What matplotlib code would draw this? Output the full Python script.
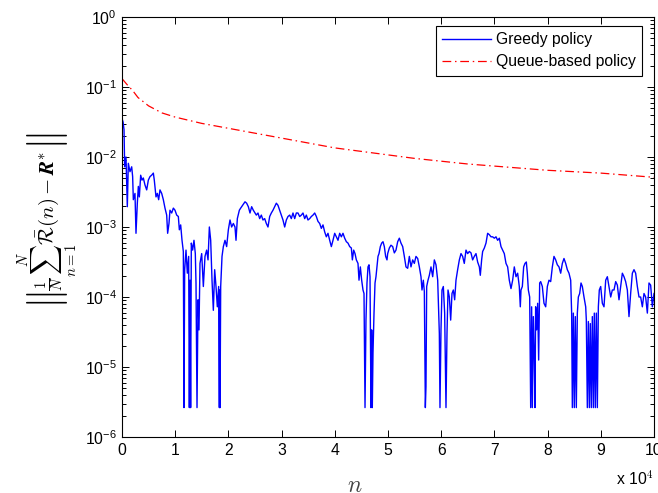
import matplotlib
matplotlib.use("Agg")
import matplotlib.pyplot as plt
from matplotlib.transforms import IdentityTransform
import numpy as np

plt.rcParams['font.family'] = ['Liberation Sans', 'DejaVu Sans']
plt.rcParams['mathtext.fontset'] = 'cm'

queue_n = [0.0, 0.1, 0.2, 0.3, 0.5, 0.75, 1.0, 1.5, 2.0, 2.5, 3.0, 3.5, 4.0,
           4.5, 5.0, 5.5, 6.0, 6.5, 7.0, 7.5, 8.0, 8.5, 9.0, 9.5, 10.0]
queue_log = [-0.88, -0.97, -1.05, -1.15, -1.27, -1.37, -1.43, -1.52, -1.59,
             -1.66, -1.73, -1.80, -1.87, -1.92, -1.97, -2.02, -2.06, -2.10,
             -2.13, -2.16, -2.19, -2.21, -2.23, -2.26, -2.29]

greedy_n = [
    0.000, 0.020, 0.038, 0.050, 0.075, 0.100, 0.119, 0.150, 0.182, 0.200,
    0.213, 0.244, 0.263, 0.288, 0.307, 0.326, 0.351, 0.376, 0.401, 0.432,
    0.464, 0.495, 0.526, 0.557, 0.589, 0.607, 0.639, 0.664, 0.689, 0.714,
    0.746, 0.777, 0.808, 0.840, 0.858, 0.883, 0.902, 0.934, 0.965, 0.996,
    1.028, 1.059, 1.078, 1.103, 1.128, 1.153, 1.165, 1.178, 1.203, 1.228,
    1.253, 1.266, 1.278, 1.290, 1.303, 1.328, 1.353, 1.378, 1.391, 1.410,
    1.429, 1.447, 1.466, 1.498, 1.529, 1.560, 1.591, 1.617, 1.642, 1.667,
    1.692, 1.717, 1.742, 1.767, 1.792, 1.817, 1.830, 1.836, 1.843, 1.855,
    1.880, 1.905, 1.936, 1.967, 1.999, 2.030, 2.061, 2.093, 2.124, 2.143,
    2.168, 2.206, 2.231, 2.268, 2.312, 2.343, 2.375, 2.406, 2.437, 2.468,
    2.525, 2.556, 2.588, 2.619, 2.650, 2.682, 2.713, 2.744, 2.776, 2.807,
    2.838, 2.870, 2.901, 2.932, 2.964, 2.995, 3.026, 3.058, 3.089, 3.120,
    3.152, 3.183, 3.214, 3.246, 3.277, 3.308, 3.340, 3.371, 3.402, 3.434,
    3.465, 3.496, 3.528, 3.559, 3.590, 3.622, 3.653, 3.684, 3.716, 3.747,
    3.778, 3.810, 3.841, 3.872, 3.904, 3.935, 3.966, 3.998, 4.029, 4.060,
    4.092, 4.123, 4.154, 4.186, 4.217, 4.248, 4.280, 4.311, 4.330, 4.355,
    4.380, 4.405, 4.436, 4.455, 4.480, 4.505, 4.530, 4.549, 4.568, 4.586,
    4.605, 4.624, 4.643, 4.662, 4.680, 4.693, 4.705, 4.718, 4.737, 4.756,
    4.774, 4.793, 4.812, 4.831, 4.856, 4.881, 4.906, 4.931, 4.956, 4.981,
    4.994, 5.025, 5.056, 5.088, 5.119, 5.150, 5.182, 5.213, 5.244, 5.276,
    5.307, 5.338, 5.370, 5.401, 5.432, 5.464, 5.495, 5.526, 5.558, 5.589,
    5.620, 5.639, 5.664, 5.683, 5.702, 5.714, 5.727, 5.752, 5.777, 5.808,
    5.840, 5.871, 5.902, 5.934, 5.952, 5.965, 5.977, 5.996, 6.015, 6.040,
    6.065, 6.090, 6.109, 6.128, 6.153, 6.178, 6.203, 6.228, 6.253, 6.278,
    6.309, 6.341, 6.372, 6.403, 6.434, 6.466, 6.497, 6.529, 6.560, 6.591,
    6.622, 6.654, 6.685, 6.717, 6.735, 6.760, 6.779, 6.811, 6.842, 6.873,
    6.905, 6.936, 6.967, 6.999, 7.030, 7.061, 7.093, 7.124, 7.155, 7.186,
    7.218, 7.249, 7.280, 7.312, 7.343, 7.374, 7.406, 7.437, 7.468, 7.487,
    7.500, 7.525, 7.550, 7.575, 7.600, 7.619, 7.638, 7.663, 7.682, 7.700,
    7.713, 7.732, 7.750, 7.763, 7.775, 7.794, 7.813, 7.832, 7.851, 7.870,
    7.901, 7.932, 7.964, 7.995, 8.026, 8.058, 8.089, 8.120, 8.152, 8.183,
    8.214, 8.246, 8.277, 8.308, 8.340, 8.371, 8.402, 8.434, 8.452, 8.465,
    8.484, 8.502, 8.521, 8.540, 8.559, 8.578, 8.603, 8.628, 8.653, 8.684,
    8.716, 8.728, 8.747, 8.766, 8.785, 8.803, 8.822, 8.841, 8.860, 8.878,
    8.897, 8.916, 8.935, 8.954, 8.972, 8.998, 9.029, 9.060, 9.092, 9.123,
    9.154, 9.186, 9.217, 9.248, 9.280, 9.311, 9.342, 9.373, 9.405, 9.436,
    9.467, 9.499, 9.530, 9.561, 9.593, 9.624, 9.655, 9.687, 9.718, 9.749,
    9.781, 9.812, 9.843, 9.875, 9.906, 9.937, 9.969, 10.000,
]
greedy_log = [
    -1.45, -1.50, -1.61, -2.14, -2.00, -2.71, -2.09, -2.21, -2.14, -2.28,
    -2.61, -2.52, -3.09, -2.66, -2.42, -2.57, -2.26, -2.33, -2.30, -2.40,
    -2.47, -2.33, -2.28, -2.26, -2.23, -2.33, -2.57, -2.52, -2.61, -2.47,
    -2.52, -2.61, -2.73, -2.83, -3.09, -2.95, -2.76, -2.80, -2.73, -2.76,
    -2.83, -2.85, -3.04, -2.97, -3.19, -3.35, -5.58, -3.61, -3.33, -3.66,
    -3.42, -5.58, -3.76, -5.58, -3.23, -3.33, -3.19, -3.38, -3.80, -5.58,
    -4.04, -4.47, -3.52, -3.38, -3.85, -3.42, -3.33, -3.47, -3.00, -3.19,
    -3.76, -4.19, -3.61, -3.85, -4.14, -3.85, -5.58, -3.90, -5.58, -3.85,
    -3.42, -3.28, -3.19, -3.28, -3.04, -2.90, -3.00, -2.95, -3.00, -3.19,
    -2.88, -2.76, -2.73, -2.69, -2.64, -2.66, -2.71, -2.80, -2.71, -2.76,
    -2.83, -2.80, -2.88, -2.83, -2.90, -2.88, -2.95, -3.00, -2.85, -2.80,
    -2.76, -2.71, -2.66, -2.69, -2.76, -2.83, -2.90, -3.00, -2.90, -2.85,
    -2.83, -2.88, -2.80, -2.88, -2.80, -2.80, -2.85, -2.83, -2.80, -2.88,
    -2.83, -2.90, -2.88, -2.85, -2.83, -2.80, -2.85, -2.92, -2.95, -3.02,
    -2.97, -3.07, -3.14, -3.09, -3.19, -3.28, -3.19, -3.09, -3.14, -3.19,
    -3.09, -3.14, -3.09, -3.16, -3.21, -3.23, -3.28, -3.30, -3.47, -3.33,
    -3.38, -3.47, -3.52, -3.76, -3.57, -3.76, -3.90, -3.95, -5.58, -4.33,
    -3.80, -3.57, -3.54, -3.71, -5.58, -4.47, -5.58, -4.80, -4.23, -3.80,
    -3.71, -3.57, -3.42, -3.38, -3.28, -3.23, -3.21, -3.28, -3.42, -3.47,
    -3.38, -3.30, -3.26, -3.28, -3.37, -3.33, -3.21, -3.16, -3.23, -3.28,
    -3.42, -3.57, -3.59, -3.42, -3.57, -3.47, -3.52, -3.42, -3.45, -3.57,
    -3.71, -3.90, -3.76, -3.92, -5.58, -5.28, -3.85, -3.76, -3.69, -3.57,
    -3.71, -3.47, -3.54, -3.76, -4.23, -4.52, -5.58, -4.47, -3.90, -3.85,
    -4.23, -5.58, -4.52, -3.90, -4.00, -4.33, -3.95, -3.90, -4.04, -3.76,
    -3.61, -3.47, -3.38, -3.42, -3.52, -3.33, -3.38, -3.35, -3.37, -3.47,
    -3.42, -3.38, -3.50, -3.57, -3.69, -3.47, -3.35, -3.30, -3.23, -3.09,
    -3.11, -3.14, -3.14, -3.16, -3.14, -3.19, -3.16, -3.28, -3.33, -3.38,
    -3.52, -3.57, -3.76, -3.88, -3.76, -3.57, -3.71, -3.66, -3.85, -4.14,
    -3.90, -3.85, -3.57, -3.52, -3.50, -3.66, -3.90, -4.00, -5.58, -4.14,
    -5.58, -4.28, -4.90, -5.58, -4.14, -4.47, -4.09, -4.90, -3.80, -3.78,
    -3.85, -4.09, -4.14, -3.85, -3.76, -3.78, -3.57, -3.42, -3.47, -3.54,
    -3.57, -3.66, -3.52, -3.45, -3.52, -3.61, -3.66, -3.76, -4.23, -5.58,
    -4.23, -5.58, -4.28, -5.58, -4.23, -4.00, -3.95, -3.80, -3.85, -4.00,
    -4.14, -4.33, -5.58, -4.35, -5.58, -4.38, -5.58, -4.28, -5.58, -4.23,
    -5.58, -4.23, -5.58, -4.14, -3.90, -3.85, -4.09, -4.14, -3.76, -3.71,
    -3.85, -4.00, -3.90, -3.90, -3.78, -3.83, -4.04, -3.85, -3.66, -3.71,
    -3.78, -3.90, -4.28, -3.95, -3.66, -3.61, -3.66, -3.85, -4.00, -4.00,
    -4.14, -3.95, -4.00, -4.23, -3.80, -3.83, -4.14, -3.95,
]

x_ticks = list(range(0, 11))
y_ticks = [1e-6, 1e-5, 1e-4, 1e-3, 1e-2, 1e-1, 1e0]
fs = 11.3

fig = plt.figure(figsize=(6.58, 4.93), dpi=100)
ax = fig.add_axes([122 / 658, 1 - 437 / 493, 532 / 658, 420 / 493])

ax.plot(greedy_n, np.power(10.0, greedy_log), color=(0, 0, 1), lw=1.0,
        label='Greedy policy')
ax.plot(queue_n, np.power(10.0, queue_log), color=(1, 0, 0), lw=0.9,
        linestyle=(0, (7, 3, 1.2, 3)), label='Queue-based policy')

ax.set_yscale('log')
ax.set_xlim(0, 10)
ax.set_ylim(1e-6, 1)
ax.set_xticks(x_ticks)
ax.set_xticklabels([str(t) for t in x_ticks])
ax.set_yticks(y_ticks)

ax.tick_params(which='both', direction='in', top=True, right=True,
               labelsize=fs, width=0.7, colors='black')
ax.tick_params(which='major', length=5, pad=4)
ax.tick_params(which='minor', length=3)
for s in ax.spines.values():
    s.set_linewidth(0.8)

ax.set_xlabel(r'$n$', fontsize=17, color='#444444')
ax.xaxis.set_label_coords(0.438, -0.09)

# inner expression as the y label, norm bars added at both ends
ax.set_ylabel(r'$\frac{1}{N}\sum_{n=1}^{N}\bar{\mathcal{R}}(n)-\boldsymbol{R}^{*}$',
              fontsize=15, va='center')
ax.yaxis.set_label_coords(-0.14, 0.515)

fig.canvas.draw()
bb = ax.yaxis.label.get_window_extent()
xc = 47
fig.text(xc, bb.y1 + 1, r'$\Vert$', rotation=90, ha='center', va='bottom',
         fontsize=30, transform=IdentityTransform())
fig.text(xc, bb.y0 - 1, r'$\Vert$', rotation=90, ha='center', va='top',
         fontsize=30, transform=IdentityTransform())

ax.text(1.0, -0.1, r'x 10$^{4}$', transform=ax.transAxes, ha='right',
        va='center', fontsize=fs)

leg = ax.legend(loc='upper right', bbox_to_anchor=(1 - 12 / 532, 1 - 9 / 420),
                borderaxespad=0, fontsize=fs, fancybox=False, framealpha=1,
                edgecolor='black', handlelength=3.1, handletextpad=0.3,
                labelspacing=0.45, borderpad=0.4)
leg.get_frame().set_linewidth(0.8)

fig.savefig('out.png', dpi=100)
